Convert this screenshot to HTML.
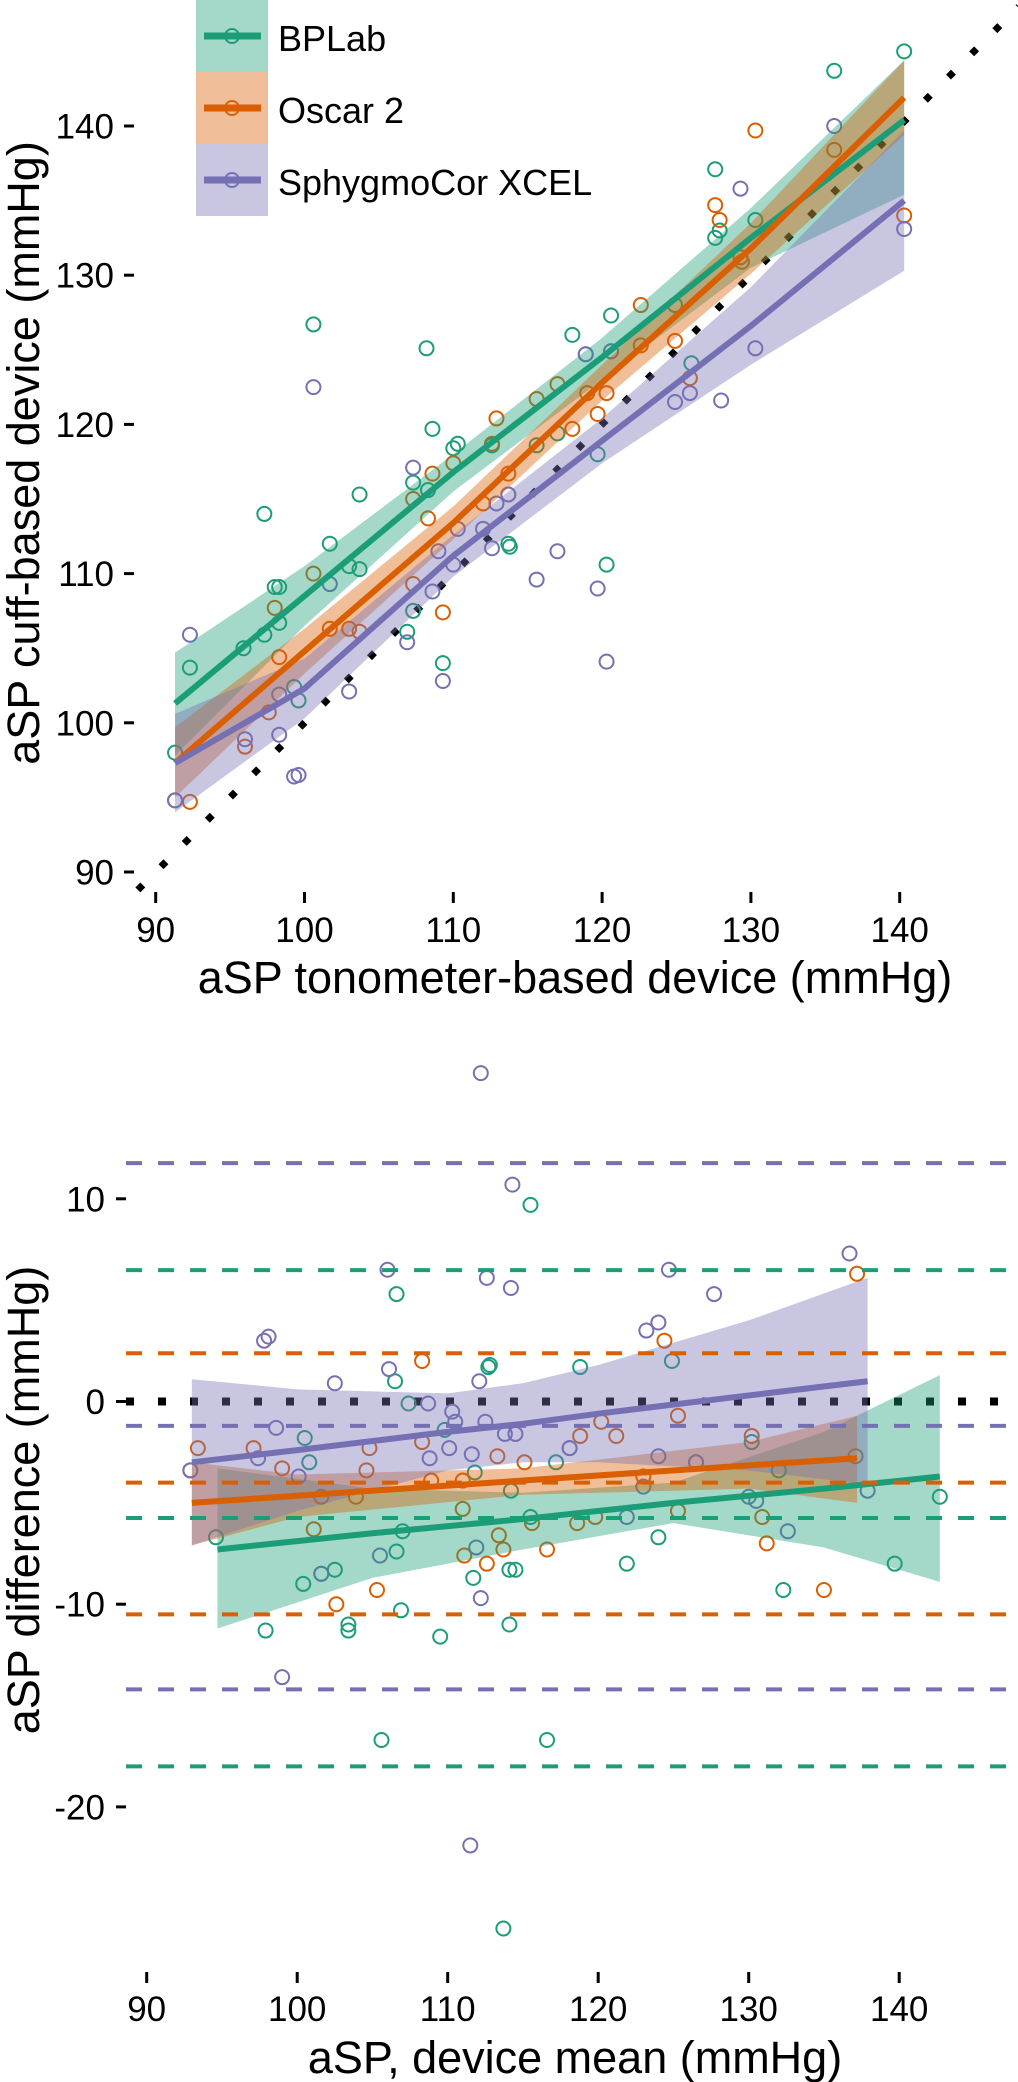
<!DOCTYPE html>
<html><head><meta charset="utf-8"><style>
html,body{margin:0;padding:0;background:#fff;}
svg{display:block;font-family:"Liberation Sans",Arial,sans-serif;}
</style></head><body>
<svg id="chart" width="1018" height="2082" viewBox="0 0 1018 2082" xmlns="http://www.w3.org/2000/svg">
<g id="topPanel"></g>
<g id="botPanel"></g>
<g id="legendPanel"></g>
</svg>
<script>
// ---------- data ----------
const seriesNames = ["BPLab", "Oscar 2", "SphygmoCor XCEL"];
const seriesColors = ["#1b9e77", "#d95f02", "#7570b3"];
const topTicks = [90, 100, 110, 120, 130, 140];
const botXTicks = [90, 100, 110, 120, 130, 140];
const botYTicks = [10, 0, -10, -20];

const topGreenX = [140.3,135.6,127.6,127.6,127.9,130.3,120.6,118.0,118.9,120.6,124.9,126.0,100.6,108.2,108.6,110.3,110.0,115.6,117.0,119.7,103.7,107.3,108.3,97.3,101.7,113.7,113.8,120.3,98.0,98.3,103.0,103.7,98.3,95.9,97.3,107.3,106.9,109.3,99.3,99.6,92.3,91.3,112.6];
const topGreenY = [145.0,143.7,137.1,132.5,133.0,133.7,127.3,126.0,124.7,124.9,128.0,124.1,126.7,125.1,119.7,118.7,118.4,118.6,119.4,118.0,115.3,116.1,115.6,114.0,112.0,112.0,111.8,110.6,109.1,109.1,110.5,110.3,106.7,105.0,105.9,107.5,106.1,104.0,102.4,101.5,103.7,98.0,118.6];
const topOrangeX = [130.3,127.6,127.9,129.3,129.4,135.6,140.3,122.6,122.6,124.9,125.9,120.3,119.0,119.7,118.0,117.0,115.6,112.9,112.6,108.6,110.0,113.7,113.7,112.0,108.3,107.3,107.3,109.3,100.6,101.7,103.0,103.7,98.0,98.3,97.6,96.0,91.3,92.3];
const topOrangeY = [139.7,134.7,133.7,131.2,130.9,138.4,134.0,128.0,125.3,125.6,123.1,122.1,122.1,120.7,119.7,122.7,121.7,120.4,118.7,116.7,117.4,116.7,115.3,114.7,113.7,115.0,109.3,107.4,110.0,106.3,106.3,106.1,107.7,104.4,100.7,98.4,94.8,94.7];
const topPurpleX = [135.6,129.3,130.3,140.3,128.0,124.9,125.9,120.6,118.9,120.3,119.7,117.0,115.6,113.7,112.9,112.0,112.6,109.0,110.3,110.0,108.6,107.3,100.6,92.3,101.7,103.0,98.3,98.3,96.0,99.3,99.6,106.9,109.3,91.3];
const topPurpleY = [140.0,135.8,125.1,133.1,121.6,121.5,122.1,124.9,124.7,104.1,109.0,111.5,109.6,115.3,114.7,113.0,111.7,111.5,113.0,110.6,108.8,117.1,122.5,105.9,109.3,102.1,101.9,99.2,98.9,96.4,96.5,105.4,102.8,94.8];

const topFitX = [91.3, 100, 110, 120, 130, 140.3];
const topGreenFit = [101.3,108.5,116.8,124.5,132.5,140.4];
const topGreenHi  = [104.7,110.5,118.0,125.8,134.5,144.4];
const topGreenLo  = [97.8,106.5,115.5,123.0,130.5,135.4];
const topOrangeFit = [97.3,104.8,113.4,122.8,131.8,141.9];
const topOrangeHi  = [99.7,106.3,114.5,124.0,133.5,144.4];
const topOrangeLo  = [95.0,103.3,112.3,121.6,130.1,139.4];
const topPurpleFit = [97.3,102.3,111.2,118.9,126.6,135.0];
const topPurpleHi  = [100.6,104.3,112.6,120.4,129.2,139.7];
const topPurpleLo  = [94.0,100.3,109.8,117.4,124.0,130.3];

const botGreenX = [115.5,106.6,106.5,107.4,112.7,112.8,118.8,124.9,100.5,100.8,94.6,97.9,100.4,101.6,102.5,103.4,103.4,106.6,106.9,107.0,109.5,111.7,114.1,114.5,114.1,114.2,115.5,117.2,118.1,121.9,124.0,126.5,132.3,132.0,130.2,139.7,142.7,105.6,116.6,113.7,111.8,109.8];
const botGreenY = [9.7,5.3,1.0,-0.1,1.7,1.8,1.7,2.0,-1.8,-3.0,-6.7,-11.3,-9.0,-8.5,-8.3,-11.0,-11.3,-7.4,-10.3,-6.4,-11.6,-8.7,-8.3,-8.3,-11.0,-4.4,-5.7,-3.0,-2.3,-8.0,-6.7,-3.0,-9.3,-3.4,-2.0,-8.0,-4.7,-16.7,-16.7,-26.0,-3.5,-1.4];
const botOrangeX = [137.2,124.4,108.3,125.3,120.2,121.2,118.8,115.1,113.3,108.3,104.8,97.1,93.4,92.9,99.0,104.6,103.9,101.6,101.1,108.9,111.0,111.0,111.1,113.4,113.7,112.6,105.3,102.6,115.6,116.6,118.6,119.8,123.0,130.2,130.9,131.2,135.0,137.1,125.3];
const botOrangeY = [6.3,3.0,2.0,-0.7,-1.0,-1.7,-1.7,-3.0,-2.7,-2.0,-2.3,-2.3,-2.3,-3.4,-3.3,-3.4,-4.7,-4.7,-6.3,-3.9,-3.9,-5.3,-7.6,-6.6,-7.3,-8.0,-9.3,-10.0,-6.0,-7.3,-6.0,-5.7,-3.7,-1.7,-5.7,-7.0,-9.3,-2.7,-5.4];
const botPurpleX = [112.2,114.3,106.0,112.6,114.2,124.7,136.7,127.7,124.0,123.2,97.8,98.1,106.1,112.1,102.5,108.7,110.3,110.5,112.5,98.6,113.8,114.5,110.1,111.6,108.8,97.4,92.9,100.1,124.0,126.5,123.0,121.9,130.0,130.5,137.9,132.6,111.9,105.5,101.6,112.2,99.0,111.5,118.1];
const botPurpleY = [16.2,10.7,6.5,6.1,5.6,6.5,7.3,5.3,3.9,3.5,3.0,3.2,1.6,1.0,0.9,-0.1,-0.5,-1.0,-1.0,-1.3,-1.6,-1.6,-2.3,-2.6,-2.8,-2.8,-3.4,-3.7,-2.7,-3.0,-4.2,-5.7,-4.7,-4.9,-4.4,-6.4,-7.2,-7.6,-8.5,-9.7,-13.6,-21.9,-2.3];

const botGreenFitX = [94.7,105,115,125,135,142.7];
const botGreenFit  = [-7.3,-6.5,-5.8,-5.0,-4.3,-3.7];
const botGreenHi   = [-3.3,-4.3,-4.5,-4.0,-1.5,1.3];
const botGreenLo   = [-11.2,-8.7,-7.3,-6.0,-7.2,-8.9];
const botOrangeFitX = [93,100,115,130,137.2];
const botOrangeFit  = [-5.0,-4.65,-3.9,-3.15,-2.8];
const botOrangeHi   = [-3.0,-3.6,-3.3,-2.0,-0.7];
const botOrangeLo   = [-7.1,-5.7,-4.6,-4.3,-5.0];
const botPurpleFitX = [93,100,110,115,120,130,137.9];
const botPurpleFit  = [-3.0,-2.4,-1.5,-1.1,-0.6,0.3,1.0];
const botPurpleHi   = [1.1,0.6,0.4,0.9,1.8,4.0,6.1];
const botPurpleLo   = [-7.1,-5.4,-3.4,-3.0,-3.0,-3.4,-4.1];

const botGreenLoA  = [-5.75, 6.48, -18.0];
const botOrangeLoA = [-4.0, 2.38, -10.5];
const botPurpleLoA = [-1.2, 11.76, -14.2];

// ---------- helpers ----------
const NS = "http://www.w3.org/2000/svg";
function mk(parent, tag, attrs, text){
  const e = document.createElementNS(NS, tag);
  for (const k in attrs) e.setAttribute(k, attrs[k]);
  if (text !== undefined) e.textContent = text;
  parent.appendChild(e);
  return e;
}
const tx = v => 155.7 + (v - 90) * 14.88;
const ty = v => 872 - (v - 90) * 14.92;
const bx = v => 146.7 + (v - 90) * 15.05;
const by = v => 1401.5 - v * 20.27;

const topG = document.getElementById('topPanel');
const botG = document.getElementById('botPanel');
const legG = document.getElementById('legendPanel');

function drawPoints(g, xs, ys, sx, sy, color, name){
  for (let i = 0; i < xs.length; i++){
    const c = mk(g, 'circle', {cx: sx(xs[i]), cy: sy(ys[i]), r: 7, fill: 'none', stroke: color, 'stroke-width': 2});
    
    
  }
}
function drawRibbon(g, xs, lo, hi, sx, sy, color, name){
  let d = '';
  for (let i = 0; i < xs.length; i++) d += (i ? 'L' : 'M') + sx(xs[i]) + ',' + sy(hi[i]);
  for (let i = xs.length - 1; i >= 0; i--) d += 'L' + sx(xs[i]) + ',' + sy(lo[i]);
  const p = mk(g, 'path', {d: d + 'Z', fill: color, 'fill-opacity': 0.4, stroke: 'none'});
  
  
}
function drawLine(g, xs, ys, sx, sy, color, name){
  const pts = xs.map((x, i) => sx(x) + ',' + sy(ys[i])).join(' ');
  const l = mk(g, 'polyline', {points: pts, fill: 'none', stroke: color, 'stroke-width': 6, 'stroke-linejoin': 'round'});
  
  
}

// ---------- top panel ----------
const idLine = mk(topG, 'line', {x1: tx(88.8), y1: ty(88.8), x2: tx(148), y2: ty(148), stroke: '#000', 'stroke-width': 7, 'stroke-dasharray': '7 25.8'});



const topPts = [[topGreenX, topGreenY], [topOrangeX, topOrangeY], [topPurpleX, topPurpleY]];
const topFits = [[topGreenFit, topGreenLo, topGreenHi], [topOrangeFit, topOrangeLo, topOrangeHi], [topPurpleFit, topPurpleLo, topPurpleHi]];
const keys = ['bplab', 'oscar2', 'sphygmocor'];
for (let s = 0; s < 3; s++) drawPoints(topG, topPts[s][0], topPts[s][1], tx, ty, seriesColors[s], 'top-' + keys[s]);
for (let s = 0; s < 3; s++) drawRibbon(topG, topFitX, topFits[s][1], topFits[s][2], tx, ty, seriesColors[s], 'top-' + keys[s]);
for (let s = 0; s < 3; s++) drawLine(topG, topFitX, topFits[s][0], tx, ty, seriesColors[s], 'top-' + keys[s]);

topTicks.forEach(t => {
  const a = mk(topG, 'line', {x1: tx(t), y1: 892, x2: tx(t), y2: 903, stroke: '#000', 'stroke-width': 3});
  
  
  const b = mk(topG, 'text', {x: tx(t), y: 942, 'font-size': 35, 'text-anchor': 'middle'}, String(t));
  
  
  const c = mk(topG, 'line', {x1: 124, y1: ty(t), x2: 134, y2: ty(t), stroke: '#000', 'stroke-width': 3});
  
  
  const d = mk(topG, 'text', {x: 114, y: ty(t) + 12.5, 'font-size': 35, 'text-anchor': 'end'}, String(t));
  
  
});
const tXT = mk(topG, 'text', {x: 575, y: 993, 'font-size': 45, 'text-anchor': 'middle'}, 'aSP tonometer-based device (mmHg)');


const tYT = mk(topG, 'text', {x: 0, y: 0, 'font-size': 45, 'text-anchor': 'middle', transform: 'translate(39,453) rotate(-90)'}, 'aSP cuff-based device (mmHg)');



// ---------- bottom panel ----------
const botPts = [[botGreenX, botGreenY], [botOrangeX, botOrangeY], [botPurpleX, botPurpleY]];
const botFits = [[botGreenFitX, botGreenFit, botGreenLo, botGreenHi], [botOrangeFitX, botOrangeFit, botOrangeLo, botOrangeHi], [botPurpleFitX, botPurpleFit, botPurpleLo, botPurpleHi]];
const loas = [botGreenLoA, botOrangeLoA, botPurpleLoA];

const zeroLine = mk(botG, 'line', {x1: 126, y1: by(0), x2: 1018, y2: by(0), stroke: '#000', 'stroke-width': 8, 'stroke-dasharray': '8 24'});


for (let s = 0; s < 3; s++) drawPoints(botG, botPts[s][0], botPts[s][1], bx, by, seriesColors[s], 'bottom-' + keys[s]);
for (let s = 0; s < 3; s++) drawRibbon(botG, botFits[s][0], botFits[s][2], botFits[s][3], bx, by, seriesColors[s], 'bottom-' + keys[s]);
for (let s = 0; s < 3; s++) drawLine(botG, botFits[s][0], botFits[s][1], bx, by, seriesColors[s], 'bottom-' + keys[s]);
for (let s = 0; s < 3; s++) {
  loas[s].forEach(v => {
    const l = mk(botG, 'line', {x1: 126, y1: by(v), x2: 1018, y2: by(v), stroke: seriesColors[s], 'stroke-width': 4, 'stroke-dasharray': '16 16'});
    
    
  });
}
botXTicks.forEach(t => {
  const a = mk(botG, 'line', {x1: bx(t), y1: 1972, x2: bx(t), y2: 1983, stroke: '#000', 'stroke-width': 3});
  
  
  const b = mk(botG, 'text', {x: bx(t), y: 2021, 'font-size': 35, 'text-anchor': 'middle'}, String(t));
  
  
});
botYTicks.forEach(t => {
  const c = mk(botG, 'line', {x1: 116, y1: by(t), x2: 126, y2: by(t), stroke: '#000', 'stroke-width': 3});
  
  
  const d = mk(botG, 'text', {x: 105, y: by(t) + 12.5, 'font-size': 35, 'text-anchor': 'end'}, String(t));
  
  
});
const bXT = mk(botG, 'text', {x: 575, y: 2073, 'font-size': 45, 'text-anchor': 'middle'}, 'aSP, device mean (mmHg)');


const bYT = mk(botG, 'text', {x: 0, y: 0, 'font-size': 45, 'text-anchor': 'middle', transform: 'translate(39,1500) rotate(-90)'}, 'aSP difference (mmHg)');



// ---------- legend ----------
for (let s = 0; s < 3; s++) {
  const y0 = s * 72;
  const r = mk(legG, 'rect', {x: 196, y: y0, width: 72, height: 72, fill: seriesColors[s], 'fill-opacity': 0.4});
  
  
  const l = mk(legG, 'line', {x1: 204, y1: y0 + 36, x2: 261, y2: y0 + 36, stroke: seriesColors[s], 'stroke-width': 7});
  
  
  const c = mk(legG, 'circle', {cx: 232, cy: y0 + 36, r: 7, fill: 'none', stroke: seriesColors[s], 'stroke-width': 2});
  
  
  const t = mk(legG, 'text', {x: 278, y: y0 + 51, 'font-size': 36}, seriesNames[s]);
  
  
}
</script>
</body></html>
